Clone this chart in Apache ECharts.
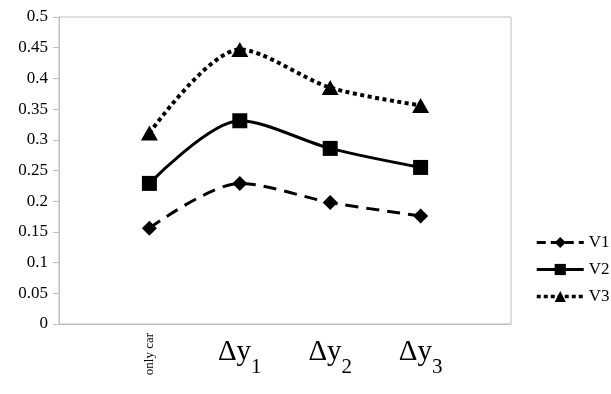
<!DOCTYPE html>
<html>
<head>
<meta charset="utf-8">
<script src="https://cdn.jsdelivr.net/npm/echarts@6/dist/echarts.min.js"></script>
<style>html,body{margin:0;padding:0;background:#fff}#c{width:611px;height:394px}</style>
</head>
<body>
<div id="c"></div>
<script>
const categories = ['', 'only car', 'Δy1', 'Δy2', 'Δy3', ''];
const v1 = [null, 0.156, 0.229, 0.198, 0.176, null];
const v2 = [null, 0.229, 0.331, 0.286, 0.255, null];
const v3 = [null, 0.311, 0.447, 0.385, 0.356, null];
const seriesNames = ['V1', 'V2', 'V3'];

const font = '"Liberation Serif", "Times New Roman", serif';
const chart = echarts.init(document.getElementById('c'));
chart.setOption({
  animation: false,
  grid: { left: 59, top: 17, right: 100, bottom: 70, show: true, borderColor: '#bfbfbf', borderWidth: 1, containLabel: false },
  legend: {
    orient: 'vertical', left: 530, top: 229, itemWidth: 47, itemHeight: 14, itemGap: 10,
    textStyle: { fontFamily: font, fontSize: 17, color: '#000' },
    data: [
      { name: seriesNames[0], lineStyle: { width: 3, type: [9, 5] } },
      { name: seriesNames[1], lineStyle: { width: 3 } },
      { name: seriesNames[2], lineStyle: { width: 3.5, type: [4, 3] } }
    ]
  },
  xAxis: [{
    type: 'category', data: categories, boundaryGap: false,
    axisLine: { lineStyle: { color: '#bfbfbf', width: 1 } },
    axisTick: { show: false },
    axisLabel: {
      interval: 0, margin: 14,
      formatter: function (v) {
        if (v.indexOf('Δy') === 0) return '{a|Δy}{b|' + v.slice(2) + '}';
        return '';
      },
      rich: {
        a: { fontFamily: font, fontSize: 29, color: '#000', verticalAlign: 'bottom', padding: [0, 0, 11, 0] },
        b: { fontFamily: font, fontSize: 21, color: '#000', verticalAlign: 'bottom' }
      }
    }
  }, {
    type: 'category', data: categories, boundaryGap: false, position: 'bottom',
    axisLine: { show: false }, axisTick: { show: false },
    axisLabel: {
      interval: 0, rotate: 90, margin: 9,
      fontFamily: font, fontSize: 13, color: '#000',
      formatter: function (v) { return v === 'only car' ? v : ''; }
    }
  }],
  yAxis: {
    type: 'value', min: 0, max: 0.5, interval: 0.05,
    splitLine: { show: false },
    axisLine: { show: true, lineStyle: { color: '#bfbfbf', width: 1 } },
    axisTick: { show: true, length: 6, lineStyle: { color: '#bfbfbf' } },
    axisLabel: { fontFamily: font, fontSize: 17, color: '#000', margin: 11 }
  },
  series: [
    { name: 'V1', type: 'line', data: v1, smooth: 0.3, connectNulls: true,
      symbol: 'diamond', symbolSize: [15, 15], showAllSymbol: true,
      itemStyle: { color: '#000' },
      lineStyle: { color: '#000', width: 3, type: [13, 8] } },
    { name: 'V2', type: 'line', data: v2, smooth: 0.3, connectNulls: true,
      symbol: 'rect', symbolSize: 15,
      itemStyle: { color: '#000' },
      lineStyle: { color: '#000', width: 3 } },
    { name: 'V3', type: 'line', data: v3, smooth: 0.3, connectNulls: true,
      symbol: 'triangle', symbolSize: [17, 15],
      itemStyle: { color: '#000' },
      lineStyle: { color: '#000', width: 4, type: [4, 3.5] } }
  ]
});
</script>
</body>
</html>
